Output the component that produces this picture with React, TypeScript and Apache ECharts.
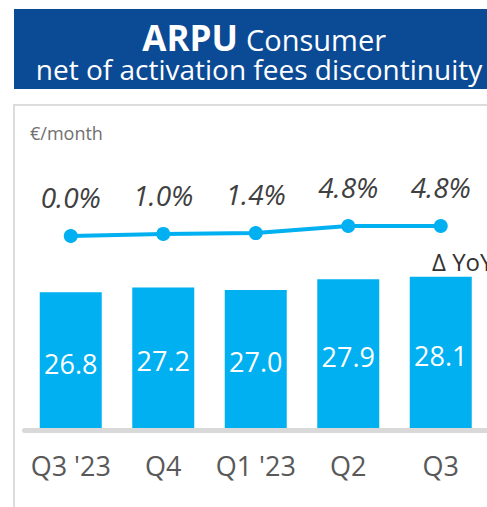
import React, { useEffect, useRef } from "react";
import * as echarts from "echarts";

const categories = ["Q3 '23", "Q4", "Q1 '23", "Q2", "Q3"];
const arpuValues = [26.8, 27.2, 27.0, 27.9, 28.1];
const yoyValues = [0.0, 1.0, 1.4, 4.8, 4.8];
const yoyLabels = ["0.0%", "1.0%", "1.4%", "4.8%", "4.8%"];

const FONT = "'Open Sans', 'Noto Sans', sans-serif";
const BLUE = "#00b0f0";

export default function App() {
  const ref = useRef<HTMLDivElement>(null);
  useEffect(() => {
    if (!ref.current) return;
    const chart = echarts.init(ref.current, undefined, { renderer: "svg" });
    chart.setOption({
      animation: false,
      backgroundColor: "#ffffff",
      textStyle: { fontFamily: FONT },
      graphic: [
        {
          type: "rect",
          shape: { x: 14, y: 9, width: 480, height: 80 },
          style: { fill: "#0b4a95" },
          z: 1,
        },
        {
          type: "text",
          x: 238,
          y: 37,
          style: {
            text: "ARPU",
            align: "right",
            verticalAlign: "middle",
            fontSize: 35,
            lineHeight: 30,
            fontWeight: "bold",
            fill: "#ffffff",
            fontFamily: FONT,
          },
          z: 2,
        },
        {
          type: "text",
          x: 246,
          y: 39,
          style: {
            text: "Consumer",
            align: "left",
            verticalAlign: "middle",
            fontSize: 29,
            lineHeight: 26,
            fill: "#ffffff",
            fontFamily: FONT,
          },
          z: 2,
        },
        {
          type: "text",
          x: 259,
          y: 69,
          style: {
            text: "net of activation fees discontinuity",
            align: "center",
            verticalAlign: "middle",
            fontSize: 28,
            lineHeight: 26,
            fill: "#ffffff",
            fontFamily: FONT,
          },
          z: 2,
        },
        {
          type: "rect",
          shape: { x: 14, y: 105, width: 520, height: 440 },
          style: { fill: "none", stroke: "#dcdcdc", lineWidth: 2 },
          z: 1,
        },
        {
          type: "text",
          x: 30,
          y: 133,
          style: {
            text: "€/month",
            verticalAlign: "middle",
            fontSize: 18,
            fill: "#707070",
            fontFamily: FONT,
          },
          z: 2,
        },
        {
          type: "text",
          x: 432,
          y: 261,
          style: {
            text: "Δ YoY",
            verticalAlign: "middle",
            fontSize: 24,
            fill: "#333333",
            fontFamily: FONT,
          },
          z: 2,
        },
      ],
      grid: [
        { left: 24.5, width: 465, top: 150, height: 278 },
        { left: 24.5, width: 465, top: 200, height: 50 },
      ],
      xAxis: [
        {
          type: "category",
          gridIndex: 0,
          data: categories,
          offset: 2.5,
          axisLine: { show: true, lineStyle: { color: "#d9d9d9", width: 5 } },
          axisTick: { show: false },
          axisLabel: { interval: 0, fontSize: 27, color: "#595959", margin: 21, fontFamily: FONT },
        },
        {
          type: "category",
          gridIndex: 1,
          data: categories,
          show: false,
        },
      ],
      yAxis: [
        { type: "value", gridIndex: 0, min: 15.4, max: 38.76, show: false, splitLine: { show: false } },
        { type: "value", gridIndex: 1, min: -6.73, max: 17.3, show: false, splitLine: { show: false } },
      ],
      series: [
        {
          type: "bar",
          xAxisIndex: 0,
          yAxisIndex: 0,
          data: arpuValues,
          barWidth: 62,
          itemStyle: { color: BLUE },
          label: {
            show: true,
            position: "inside",
            offset: [0, 3],
            color: "#ffffff",
            fontSize: 27,
            fontFamily: FONT,
            formatter: (p: any) => Number(p.value).toFixed(1),
          },
          z: 3,
        },
        {
          type: "line",
          xAxisIndex: 1,
          yAxisIndex: 1,
          data: yoyValues,
          symbol: "circle",
          symbolSize: 14,
          lineStyle: { color: BLUE, width: 4 },
          itemStyle: { color: BLUE },
          label: {
            show: true,
            position: "top",
            distance: 18,
            color: "#404040",
            fontSize: 28,
            fontStyle: "italic",
            fontFamily: FONT,
            formatter: (p: any) => yoyLabels[p.dataIndex],
          },
          z: 4,
        },
      ],
    });
    return () => chart.dispose();
  }, []);
  return (
    <div
      ref={ref}
      style={{ position: "absolute", left: 0, top: 0, width: 487, height: 507 }}
    />
  );
}
